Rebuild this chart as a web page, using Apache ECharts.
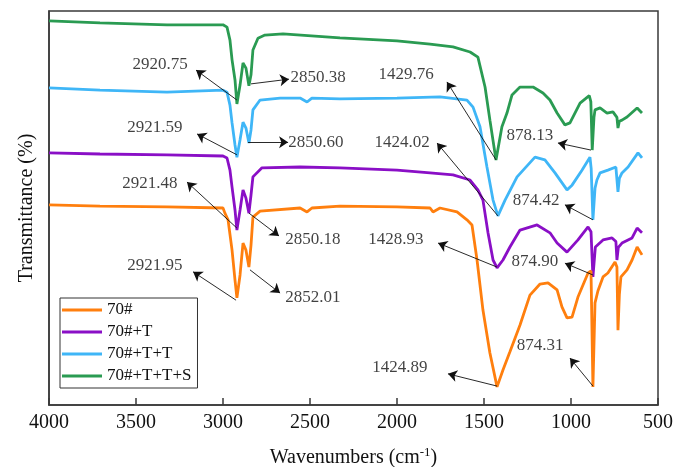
<!DOCTYPE html>
<html><head><meta charset="utf-8">
<script src="https://cdn.jsdelivr.net/npm/echarts@6/dist/echarts.min.js"></script>
<style>html,body{margin:0;padding:0;background:#fff}#c{width:675px;height:467px}</style>
</head><body><div id="c"></div>
<script>
// ---- data (wavenumber cm-1, transmittance offset units) ----
const seriesNames = ['70#', '70#+T', '70#+T+T', '70#+T+T+S'];

const data70 = [[4000,50.8],[3707,50.5],[3322,50.3],[3000,50.0],[2989,48.7],[2971,47.0],[2948,39.3],[2931,31.7],[2920,27.2],[2902,33.0],[2885,41.1],[2868,39.3],[2851,35.0],[2839,40.6],[2828,47.7],[2787,49.2],[2557,50.0],[2517,49.0],[2489,50.0],[2328,50.5],[2000,50.3],[1810,50.0],[1793,49.0],[1753,50.0],[1655,49.0],[1598,47.0],[1569,45.7],[1540,36.8],[1506,24.1],[1466,13.2],[1425,4.6],[1391,8.9],[1351,13.5],[1293,20.3],[1236,27.9],[1178,30.7],[1132,31.0],[1080,29.2],[1052,24.9],[1023,22.1],[994,22.3],[960,27.4],[902,33.5],[885,34.0],[874,4.6],[862,25.9],[845,29.0],[816,32.5],[788,33.5],[747,36.3],[736,35.0],[730,19.0],[722,28.0],[713,32.5],[678,34.3],[649,36.8],[620,40.1],[592,38.1]];

const data70T = [[4000,64.0],[3707,63.7],[3322,63.5],[3000,63.2],[2977,62.7],[2960,59.6],[2948,55.3],[2931,49.5],[2920,44.4],[2902,49.5],[2885,54.6],[2868,52.5],[2851,48.7],[2839,53.3],[2828,57.9],[2776,60.2],[2557,60.4],[2328,60.2],[2000,59.6],[1810,58.9],[1678,58.4],[1580,57.1],[1535,54.6],[1506,52.0],[1477,43.7],[1448,36.8],[1425,34.8],[1391,36.8],[1351,40.1],[1293,44.4],[1195,45.7],[1121,43.7],[1080,41.1],[1023,38.8],[960,41.9],[902,45.2],[885,44.0],[874,32.5],[860,40.1],[816,41.9],[764,42.4],[742,41.5],[736,36.8],[728,40.0],[707,41.1],[649,42.4],[620,44.9],[592,43.7]];

const data70TT = [[4000,80.5],[3707,79.9],[3322,79.4],[3000,79.9],[2977,79.4],[2960,76.1],[2948,71.6],[2931,66.0],[2920,62.9],[2902,67.3],[2885,71.8],[2868,70.3],[2851,66.5],[2839,69.8],[2828,74.9],[2787,77.4],[2672,77.9],[2557,77.9],[2517,76.9],[2489,77.9],[2328,77.7],[2000,77.9],[1753,78.2],[1598,77.4],[1563,75.6],[1523,70.6],[1483,60.4],[1448,52.0],[1420,48.0],[1379,52.0],[1310,57.9],[1207,62.9],[1150,62.2],[1092,58.9],[1023,54.6],[994,55.8],[937,59.6],[891,62.9],[884,60.0],[874,47.0],[862,55.0],[851,57.1],[833,58.9],[788,59.6],[742,60.4],[730,54.1],[722,57.5],[707,58.9],[672,60.4],[615,64.0],[592,62.7]];

const data70TTS = [[4000,97.5],[3707,97.0],[3322,96.5],[3000,96.5],[2977,95.9],[2960,92.6],[2948,87.6],[2931,82.5],[2920,76.4],[2902,81.2],[2885,86.8],[2868,85.5],[2851,81.0],[2839,83.8],[2828,90.1],[2799,93.1],[2759,93.9],[2655,94.2],[2328,93.2],[2000,92.4],[1810,91.6],[1678,90.9],[1580,89.6],[1535,88.3],[1494,80.7],[1466,72.3],[1431,62.2],[1397,70.6],[1368,74.1],[1339,78.7],[1293,80.7],[1218,80.7],[1161,79.2],[1121,77.4],[1080,74.1],[1035,71.1],[1006,71.6],[948,76.6],[895,78.5],[886,77.0],[878,64.7],[868,73.0],[862,74.9],[833,75.4],[793,74.1],[759,74.4],[736,73.0],[730,70.3],[722,72.0],[707,72.3],[678,73.1],[620,75.4],[592,74.1]];

// ---- peak annotations (text, peak point, arrow head, label centre) ----
const peakLabels = ['2920.75','2850.38','2921.59','2850.60','2921.48','2850.18','2921.95','2852.01','1429.76','1424.02','1428.93','1424.89','878.13','874.42','874.90','874.31'];
const peakPoints = [[2920,77.4],[2839,81.5],[2920,63.5],[2856,66.7],[2920,44.9],[2851,48.7],[2925,26.6],[2845,34.3],[1431,62.2],[1420,48.0],[1425,35.0],[1425,4.8],[885,64.7],[874,47.0],[874,33.0],[874,4.8]];
const arrowEnds = [[3155,85.0],[2621,82.7],[3149,68.8],[2626,66.7],[3207,56.6],[2678,42.9],[3172,33.8],[2672,28.4],[1713,82.0],[1770,66.5],[1764,41.1],[1707,7.9],[1075,66.5],[1035,50.8],[1035,36.0],[1006,11.9]];
const labelPoints = [[3362,86.5],[2454,83.0],[3391,70.3],[2466,66.7],[3420,56.3],[2483,41.9],[3391,35.3],[2483,27.2],[1948,83.8],[1971,66.5],[2006,41.9],[1983,9.4],[1236,68.5],[1201,52.0],[1207,36.3],[1178,15.2]];

// ---- chart ----
const font = 'Liberation Serif';
const colors = ['#ff7f0e', '#8a0fc6', '#3fb6f7', '#2a9b52'];
const seriesData = [data70, data70T, data70TT, data70TTS];
const axisColor = '#3a3a3a';

const chart = echarts.init(document.getElementById('c'));
const lineSeries = seriesNames.map((n, i) => ({
  name: n, type: 'line', data: seriesData[i], showSymbol: false, symbol: 'none',
  lineStyle: { color: colors[i], width: 2.8 }, itemStyle: { color: colors[i] },
  silent: true, z: 3 + (3 - i) * 0.1
}));

chart.setOption({
  animation: false,
  grid: { left: 49, right: 17, top: 11, bottom: 62, outerBoundsMode: 'none', containLabel: false,
          show: true, borderColor: axisColor, borderWidth: 1.5, backgroundColor: 'transparent' },
  xAxis: {
    type: 'value', inverse: true, min: 500, max: 4000, interval: 500,
    axisLine: { show: true, onZero: false, lineStyle: { color: axisColor, width: 1.5 } },
    axisTick: { show: true, inside: true, length: 7, lineStyle: { color: axisColor, width: 1.5 } },
    axisLabel: { margin: 8, fontFamily: font, fontSize: 20, color: '#111', formatter: v => String(v) },
    splitLine: { show: false },
    name: '{a|Wavenumbers (cm}{s|-1}{a|)}', nameLocation: 'middle', nameGap: 41,
    nameTextStyle: { rich: {
      a: { fontFamily: font, fontSize: 20, color: '#111', lineHeight: 24 },
      s: { fontFamily: font, fontSize: 13, color: '#111', lineHeight: 24, verticalAlign: 'top' }
    } }
  },
  yAxis: {
    type: 'value', min: 0, max: 100,
    axisLine: { show: true, onZero: false, lineStyle: { color: axisColor, width: 1.5 } },
    axisTick: { show: false }, axisLabel: { show: false }, splitLine: { show: false },
    name: 'Transmittance (%)', nameLocation: 'middle', nameGap: 12, nameRotate: 90,
    nameTextStyle: { fontFamily: font, fontSize: 20, color: '#111' }
  },
  legend: {
    data: seriesNames, orient: 'vertical', left: 60, top: 298,
    icon: 'rect', itemWidth: 40, itemHeight: 3, itemGap: 4,
    padding: [3, 6, 3, 2], borderColor: '#333', borderWidth: 1, backgroundColor: '#fff',
    textStyle: { fontFamily: font, fontSize: 17, color: '#111', lineHeight: 18 },
    selectedMode: false
  },
  series: lineSeries.concat([
    {
      type: 'lines', coordinateSystem: 'cartesian2d', silent: true, z: 6,
      data: peakPoints.map((p, i) => ({ coords: [p, arrowEnds[i]] })),
      symbol: ['none', 'arrow'], symbolSize: [0, 9],
      lineStyle: { color: '#111', width: 0.9, opacity: 1, curveness: 0 }
    },
    {
      type: 'scatter', silent: true, z: 7, symbolSize: 1,
      itemStyle: { color: 'rgba(0,0,0,0)' },
      data: labelPoints.map((p, i) => ({ value: p, label: { formatter: peakLabels[i] } })),
      label: { show: true, position: 'inside', fontFamily: font, fontSize: 17, color: '#111' }
    }
  ])
});
</script>
</body></html>
